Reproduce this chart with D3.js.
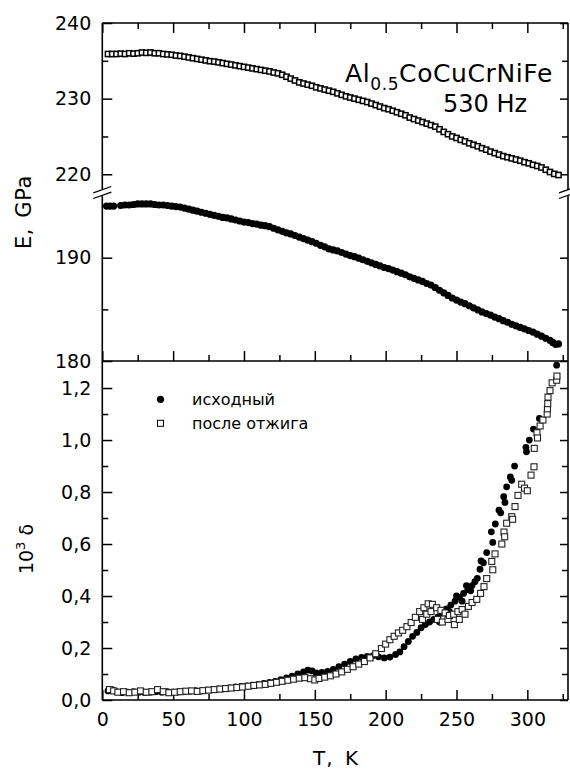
<!DOCTYPE html>
<html>
<head>
<meta charset="utf-8">
<script src="https://d3js.org/d3.v7.min.js"></script>
<style>
  body { margin: 0; background: #fff; }
  svg text { font-family: "DejaVu Sans", sans-serif; fill: #000; }
</style>
</head>
<body>
<div id="chart"></div>
<script>
// ── data ────────────────────────────────────────────────────────────────────
// E (GPa) after annealing, upper branch — [T, E]
const eAnnealed = [
  [4,235.9],[7,235.9],[10,235.9],[13,235.95],[16,235.9],[19,236.0],[22,235.95],[25,236.0],[28,236.1],[31,236.05],
  [34,236.1],[37,236.0],[40,236.0],[43,235.9],[46,235.85],[49,235.8],[52,235.7],[55,235.65],[58,235.55],[61,235.45],
  [64,235.35],[67,235.25],[70,235.15],[73,235.05],[76,234.95],[79,234.9],[82,234.8],[85,234.7],[88,234.6],[91,234.5],
  [94,234.4],[97,234.3],[100,234.2],[103,234.1],[106,234.0],[109,233.9],[112,233.8],[115,233.7],[118,233.6],[121,233.45],
  [124,233.35],[127,233.15],[130,232.9],[133,232.65],[136,232.4],[139,232.15],[142,232.0],[145,231.85],[148,231.7],[151,231.5],
  [154,231.35],[157,231.2],[160,231.05],[163,230.9],[166,230.7],[169,230.5],[172,230.3],[175,230.15],[178,230.0],[181,229.85],
  [184,229.7],[187,229.55],[190,229.35],[193,229.15],[196,228.95],[199,228.75],[202,228.6],[205,228.4],[208,228.2],[211,228.0],
  [214,227.8],[217,227.5],[220,227.3],[223,227.1],[226,226.9],[229,226.7],[232,226.5],[235,226.3],[238,225.95],[241,225.6],
  [244,225.3],[247,225.0],[250,224.8],[253,224.55],[256,224.35],[259,224.1],[262,223.9],[265,223.7],[268,223.45],[271,223.25],
  [274,223.0],[277,222.8],[280,222.6],[283,222.4],[286,222.25],[289,222.1],[292,221.95],[295,221.8],[298,221.6],[301,221.45],
  [304,221.25],[307,221.1],[310,220.9],[313,220.6],[316,220.3],[319,220.05],[322,219.9]
];

// E (GPa) initial state, lower branch — [T, E]
const eInitial = [
  [3,195.0],[5.5,195.0],[8,195.0],[13,195.05],[16,195.1],[19,195.1],[22,195.15],[25,195.2],[28,195.2],[31,195.2],
  [34,195.2],[37,195.15],[40,195.1],[43,195.1],[46,195.05],[49,195.0],[52,194.95],[55,194.9],[58,194.8],[61,194.7],
  [64,194.6],[67,194.5],[70,194.4],[73,194.3],[76,194.2],[79,194.1],[82,194.0],[85,193.9],[88,193.85],[91,193.75],
  [94,193.65],[97,193.55],[100,193.45],[103,193.4],[106,193.3],[109,193.25],[112,193.15],[115,193.1],[118,193.0],[121,192.85],
  [124,192.7],[127,192.55],[130,192.4],[133,192.3],[136,192.15],[139,192.0],[142,191.85],[145,191.7],[148,191.55],[151,191.4],
  [154,191.2],[157,191.05],[160,190.85],[163,190.75],[166,190.65],[169,190.5],[172,190.35],[175,190.2],[178,190.1],[181,189.95],
  [184,189.8],[187,189.65],[190,189.5],[193,189.35],[196,189.2],[199,189.05],[202,188.95],[205,188.8],[208,188.65],[211,188.5],
  [214,188.35],[217,188.15],[220,188.0],[223,187.85],[226,187.7],[229,187.5],[232,187.35],[235,187.1],[238,186.85],[241,186.6],
  [244,186.35],[247,186.1],[250,185.9],[253,185.7],[256,185.55],[259,185.35],[262,185.15],[265,184.95],[268,184.75],[271,184.6],
  [274,184.45],[277,184.25],[280,184.1],[283,183.9],[286,183.75],[289,183.55],[292,183.4],[295,183.25],[298,183.1],[301,182.95],
  [304,182.8],[307,182.6],[310,182.4],[313,182.2],[316,182.0],[318,181.8],[320,181.6],[322,181.65]
];

// internal friction 10^3·δ, initial (filled circles) — [T, δ]
const dInitial = [
  [4,0.035],[7,0.04],[10,0.032],[14,0.028],[18,0.03],[22,0.032],[26,0.03],[30,0.028],[34,0.03],[38,0.032],
  [42,0.03],[46,0.032],[50,0.03],[54,0.031],[58,0.033],[62,0.034],[66,0.036],[70,0.035],[74,0.038],[78,0.041],
  [82,0.043],[86,0.045],[90,0.047],[94,0.05],[98,0.052],[102,0.054],[106,0.057],[110,0.06],[114,0.064],[118,0.068],
  [122,0.072],[126,0.078],[130,0.085],[134,0.092],[138,0.1],[142,0.108],[145,0.115],[148,0.112],[151,0.104],[155,0.106],
  [159,0.11],[163,0.118],[167,0.128],[171,0.138],[175,0.148],[179,0.158],[183,0.164],[187,0.168],[191,0.17],[195,0.166],
  [199,0.162],[203,0.165],[207,0.175],[210,0.185],[213,0.205],[216,0.225],[219,0.245],[222,0.26],[225,0.278],[228,0.29],
  [231,0.3],[234,0.31],[237,0.32],[238,0.3],[240,0.335],[243,0.35],[245,0.34],[246,0.365],[249,0.38],[250,0.4],
  [252,0.395],[254,0.38],[255,0.41],[257,0.44],[258,0.425],[260,0.42],[261,0.44],[263,0.455],[264.7,0.468],[266.6,0.503],
  [267.3,0.535],[269,0.528],[271.3,0.567],[274.6,0.647],[275.6,0.606],[277.4,0.677],[280,0.73],[281.2,0.72],[283.3,0.782],[284.2,0.76],
  [285.4,0.82],[288,0.858],[289,0.845],[291,0.9],[299,0.972],[299.4,0.955],[301.4,1.0],[304.3,1.042],[308.5,1.083],[320.7,1.288]
];

// internal friction 10^3·δ, after annealing (open squares) — [T, δ]
const dAnnealed = [
  [5,0.04],[8,0.035],[11,0.03],[15,0.032],[19,0.028],[23,0.03],[27,0.035],[31,0.03],[35,0.032],[39,0.04],
  [43,0.032],[47,0.028],[51,0.03],[55,0.032],[59,0.034],[63,0.035],[67,0.033],[71,0.036],[75,0.038],[79,0.04],
  [83,0.042],[87,0.044],[91,0.046],[95,0.048],[99,0.05],[103,0.053],[107,0.056],[111,0.058],[115,0.06],[119,0.064],
  [123,0.068],[127,0.072],[131,0.076],[135,0.08],[139,0.084],[143,0.086],[147,0.082],[150,0.077],[153,0.083],[157,0.088],
  [161,0.093],[165,0.1],[169,0.108],[173,0.118],[177,0.128],[181,0.138],[185,0.148],[189,0.162],[193,0.178],[197,0.198],
  [200,0.215],[203,0.232],[206,0.245],[209,0.258],[212,0.268],[215,0.282],[218,0.298],[221,0.318],[224,0.34],[226,0.31],
  [227,0.355],[229,0.33],[230,0.37],[232,0.34],[233,0.368],[236,0.355],[236.5,0.31],[239,0.345],[240,0.3],[242,0.335],
  [244,0.31],[245,0.325],[248,0.33],[248.5,0.29],[251,0.34],[252,0.31],[254,0.348],[256,0.33],[258.4,0.36],[261,0.375],
  [264.3,0.387],[267,0.41],[269.4,0.436],[271.3,0.467],[274.9,0.533],[275.6,0.501],[277.2,0.562],[282,0.6],[283.5,0.646],[284,0.628],
  [285.4,0.68],[289,0.705],[289.6,0.695],[291.3,0.744],[293.4,0.787],[296,0.83],[298,0.815],[300,0.805],[302.6,0.865],[304.7,0.897],
  [304.9,0.968],[306.8,1.028],[307.2,1.008],[309,1.054],[311,1.077],[314,1.1],[314.2,1.12],[314.4,1.14],[314.6,1.165],[316,1.19],
  [317.5,1.22],[320.7,1.23],[320.9,1.246]
];

// ticks
const tMajor = [0, 50, 100, 150, 200, 250, 300];
const tMinor = [25, 75, 125, 175, 225, 275, 325];
const eHiMajor = [220, 230, 240];
const eHiMinor = [225, 235];
const eLoMajor = [180, 190];
const eLoMinor = [185];
const dMajor = [0, 0.2, 0.4, 0.6, 0.8, 1.0, 1.2];
const dMinor = [0.1, 0.3, 0.5, 0.7, 0.9, 1.1];

const legendLabels = ['исходный', 'после отжига'];

// ── layout ──────────────────────────────────────────────────────────────────
const W = 570, H = 769;
const xLeft = 102.3, xRight = 568, yTop = 23, yMid = 361, yBottom = 700, breakY = 192.5;

const svg = d3.select('#chart').append('svg')
  .attr('width', W).attr('height', H);

const x = d3.scaleLinear().domain([0, 328.7]).range([xLeft, xRight]);
const yHi = d3.scaleLinear().domain([217.59, 240]).range([breakY, yTop]);
const yLo = d3.scaleLinear().domain([180, 196.31]).range([yMid, breakY]);
const yD = d3.scaleLinear().domain([0, 1.304]).range([yBottom, yMid]);

const fmtComma = d => d3.format('.1f')(d).replace('.', ',');

function tickAxis(axisFn, scale, values, size, fmt, pad) {
  return axisFn(scale).tickValues(values).tickSize(-size)
    .tickPadding(pad || 0).tickFormat(fmt || '');
}

function styleAxis(g) {
  g.select('.domain').remove();
  g.selectAll('.tick line').attr('stroke', '#000').attr('stroke-width', 1.5);
  g.selectAll('.tick text').attr('font-size', '19px').attr('fill', '#000')
    .attr('font-family', '"DejaVu Sans", sans-serif');
}

// bottom axis
svg.append('g').attr('transform', `translate(0,${yBottom})`)
  .call(tickAxis(d3.axisBottom, x, tMajor, 10, d3.format('d'), 13)).call(styleAxis);
svg.append('g').attr('transform', `translate(0,${yBottom})`)
  .call(tickAxis(d3.axisBottom, x, tMinor, 6)).call(styleAxis);
// middle line (bottom of upper panel)
svg.append('g').attr('transform', `translate(0,${yMid})`)
  .call(tickAxis(d3.axisBottom, x, tMajor, 10)).call(styleAxis);
svg.append('g').attr('transform', `translate(0,${yMid})`)
  .call(tickAxis(d3.axisBottom, x, tMinor, 6)).call(styleAxis);
// top
svg.append('g').attr('transform', `translate(0,${yTop})`)
  .call(tickAxis(d3.axisTop, x, tMajor, 10)).call(styleAxis);
svg.append('g').attr('transform', `translate(0,${yTop})`)
  .call(tickAxis(d3.axisTop, x, tMinor, 6)).call(styleAxis);

// left + right for each y segment
[[yHi, eHiMajor, eHiMinor, d3.format('d')],
 [yLo, eLoMajor, eLoMinor, d3.format('d')],
 [yD, dMajor, dMinor, fmtComma]].forEach(([sc, maj, mnr, fmt]) => {
  svg.append('g').attr('transform', `translate(${xLeft},0)`)
    .call(tickAxis(d3.axisLeft, sc, maj, 10, fmt, 11)).call(styleAxis);
  svg.append('g').attr('transform', `translate(${xLeft},0)`)
    .call(tickAxis(d3.axisLeft, sc, mnr, 6)).call(styleAxis);
  svg.append('g').attr('transform', `translate(${xRight},0)`)
    .call(tickAxis(d3.axisRight, sc, maj, 8)).call(styleAxis);
  svg.append('g').attr('transform', `translate(${xRight},0)`)
    .call(tickAxis(d3.axisRight, sc, mnr, 6)).call(styleAxis);
});

// frame
const frame = svg.append('g').attr('stroke', '#000').attr('stroke-width', 1.6).attr('fill', 'none');
frame.append('path').attr('d', `M${xLeft},${yTop}H${xRight}M${xLeft},${yMid}H${xRight}M${xLeft},${yBottom}H${xRight}`);
frame.append('path').attr('d', `M${xLeft},${yTop}V${breakY - 3}M${xLeft},${breakY + 3}V${yBottom}`);
frame.append('path').attr('d', `M${xRight},${yTop}V${breakY - 3}M${xRight},${breakY + 3}V${yBottom}`);

// axis break marks
[xLeft, xRight].forEach(cx => {
  [-2.8, 2.8].forEach(dy => {
    svg.append('line')
      .attr('x1', cx - 9).attr('y1', breakY + dy + 3.2)
      .attr('x2', cx + 9).attr('y2', breakY + dy - 3.2)
      .attr('stroke', '#000').attr('stroke-width', 1.3);
  });
});

// ── marks ───────────────────────────────────────────────────────────────────
const plot = svg.append('g');

plot.append('g').selectAll('rect').data(eAnnealed).enter().append('rect')
  .attr('x', d => x(d[0]) - 2.6).attr('y', d => yHi(d[1]) - 2.6)
  .attr('width', 5.2).attr('height', 5.2)
  .attr('fill', '#fff').attr('stroke', '#000').attr('stroke-width', 1.5);

plot.append('g').selectAll('circle').data(eInitial).enter().append('circle')
  .attr('cx', d => x(d[0])).attr('cy', d => yLo(d[1])).attr('r', 3.6)
  .attr('fill', '#000');

plot.append('g').selectAll('circle').data(dInitial).enter().append('circle')
  .attr('cx', d => x(d[0])).attr('cy', d => yD(d[1])).attr('r', 3.4)
  .attr('fill', '#000');

plot.append('g').selectAll('rect').data(dAnnealed).enter().append('rect')
  .attr('x', d => x(d[0]) - 3).attr('y', d => yD(d[1]) - 3)
  .attr('width', 6).attr('height', 6)
  .attr('fill', '#fff').attr('stroke', '#222').attr('stroke-width', 1.1);

// ── legend ──────────────────────────────────────────────────────────────────
const legend = svg.append('g').attr('transform', 'translate(160.5, 399.3)');
legend.append('circle').attr('cx', 0).attr('cy', 0).attr('r', 3.6).attr('fill', '#000');
legend.append('rect').attr('x', -3).attr('y', 21).attr('width', 6).attr('height', 6)
  .attr('fill', '#fff').attr('stroke', '#000').attr('stroke-width', 1);
legendLabels.forEach((t, i) => {
  legend.append('text').attr('x', 31.5).attr('y', 6 + i * 24)
    .attr('font-size', '16px').text(t);
});

// ── labels ──────────────────────────────────────────────────────────────────
const title = svg.append('text').attr('x', 345).attr('y', 82)
  .attr('font-size', '25px').attr('letter-spacing', '0.6px');
title.append('tspan').text('Al');
title.append('tspan').attr('font-size', '17px').attr('dy', 8).text('0.5');
title.append('tspan').attr('dy', -8).text('CoCuCrNiFe');

svg.append('text').attr('x', 443).attr('y', 111.5).attr('font-size', '24px').text('530 Hz');

svg.append('text').attr('x', 336).attr('y', 765).attr('text-anchor', 'middle')
  .attr('font-size', '20px').attr('letter-spacing', '1px').attr('word-spacing', '4px')
  .text('T, K');

svg.append('text').attr('transform', 'translate(31,212) rotate(-90)')
  .attr('text-anchor', 'middle').attr('font-size', '21px').attr('letter-spacing', '0.6px')
  .attr('word-spacing', '3px').text('E, GPa');

const dl = svg.append('text').attr('transform', 'translate(33,549) rotate(-90)')
  .attr('text-anchor', 'middle').attr('font-size', '19px');
dl.append('tspan').text('10');
dl.append('tspan').attr('font-size', '13px').attr('dy', -8).text('3');
dl.append('tspan').attr('dy', 8).text(' δ');
</script>
</body>
</html>
